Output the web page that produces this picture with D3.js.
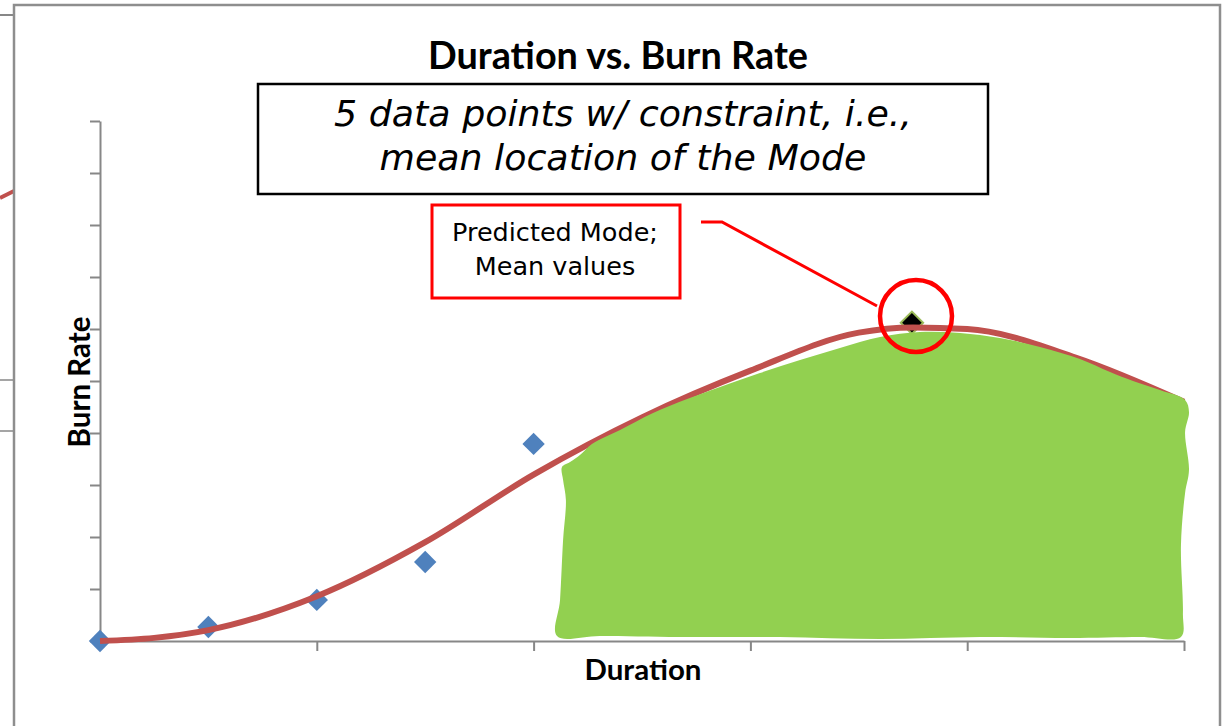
<!DOCTYPE html>
<html>
<head>
<meta charset="utf-8">
<script src="https://cdn.jsdelivr.net/npm/d3@7"></script>
<style>
  body { margin: 0; background: #fff; }
</style>
</head>
<body>
<div id="chart"></div>
<script>
// observed data points (duration, burn rate)
var obsX = [0, 0.5, 1.0, 1.5, 2.0];
var obsY = [0, 0.27, 0.79, 1.52, 3.79];

// fitted curve samples
var fitX = [0, 0.25, 0.5, 1.0, 1.5, 2.0, 2.5, 3.0, 3.5, 3.75, 4.0, 4.5, 5.0];
var fitY = [0, 0.06, 0.21, 0.86, 1.9, 3.2, 4.3, 5.2, 5.93, 6.03, 6.0, 5.45, 4.6];

// predicted mode marker
var modeX = [3.745];
var modeY = [6.12];

// hand drawn green highlight, in data units
var blobX = [2.131, 2.168, 2.214, 2.269, 2.399, 2.551, 2.708, 2.860, 3.044, 3.229, 3.413, 3.598, 3.782, 3.967, 4.151, 4.336, 4.520, 4.659, 4.765, 4.889, 5.005,
	5.023, 5.005, 5.023, 5.005, 4.986, 4.995, 4.986,
	4.797, 4.474, 4.059, 3.598, 3.137, 2.675, 2.306, 2.108,
	2.122, 2.136, 2.149, 2.136];
var blobY = [3.346, 3.442, 3.577, 3.788, 4.058, 4.385, 4.654, 4.885, 5.154, 5.404, 5.635, 5.846, 5.942, 5.923, 5.827, 5.654, 5.423, 5.173, 5.0, 4.827, 4.635,
	4.404, 4.019, 3.288, 2.846, 1.846, 0.538, 0.077,
	0.077, 0.058, 0.077, 0.038, 0.077, 0.077, 0.096, 0.096,
	0.788, 1.942, 2.712, 3.096];

var xTicks = [0, 1, 2, 3, 4, 5];
var yTicks = [0, 1, 2, 3, 4, 5, 6, 7, 8, 9, 10];

var width = 1224, height = 726;
var gray = "#878787";

var svg = d3.select("#chart").append("svg")
	.attr("width", width)
	.attr("height", height)
	.style("font-family", "Lato, 'Open Sans', sans-serif");

function fitText(sel, target) {
	var w = sel.node().getComputedTextLength();
	var fs = parseFloat(sel.style("font-size"));
	var nfs = fs * target / w;
	sel.style("font-size", nfs + "px");
	return nfs;
}

// bits of the chart that sits behind this one
svg.append("line").attr("x1", 0).attr("x2", 14).attr("y1", 15).attr("y2", 15)
	.style("stroke", gray).style("stroke-width", 2);
svg.append("line").attr("x1", 0).attr("x2", 14).attr("y1", 380).attr("y2", 380)
	.style("stroke", gray).style("stroke-width", 1.5);
svg.append("line").attr("x1", 0).attr("x2", 14).attr("y1", 431).attr("y2", 431)
	.style("stroke", gray).style("stroke-width", 1.5);
svg.append("line").attr("x1", 0).attr("x2", 14).attr("y1", 198).attr("y2", 191)
	.style("stroke", "#C0504D").style("stroke-width", 4);

// outer chart frame
svg.append("rect")
	.attr("x", 14).attr("y", 5)
	.attr("width", 1206).attr("height", 740)
	.style("fill", "#fff")
	.style("stroke", "#8e8e8e")
	.style("stroke-width", 2.5);

var x = d3.scaleLinear().domain([0, 5]).range([100, 1184]);
var y = d3.scaleLinear().domain([0, 10]).range([641, 121]);

svg.append("g")
	.attr("transform", "translate(100,0)")
	.call(d3.axisLeft(y).tickValues(yTicks).tickSize(10).tickSizeOuter(0).tickFormat(""));
svg.append("g")
	.attr("transform", "translate(0,641)")
	.call(d3.axisBottom(x).tickValues(xTicks.slice(1)).tickSize(10).tickSizeOuter(0).tickFormat(""));
svg.selectAll(".domain, .tick line")
	.style("stroke", gray)
	.style("stroke-width", 2);

// observed points
var diamond = d3.symbol().type(d3.symbolSquare).size(250);
svg.selectAll(".obs")
	.data(obsX.map(function(d, i){ return [d, obsY[i]]; }))
	.enter().append("path")
	.attr("class", "obs")
	.attr("d", diamond)
	.attr("transform", function(d){ return "translate(" + x(d[0]) + "," + y(d[1]) + ") rotate(45)"; })
	.style("fill", "#4F81BD");

// predicted mode
svg.selectAll(".mode")
	.data(modeX.map(function(d, i){ return [d, modeY[i]]; }))
	.enter().append("path")
	.attr("class", "mode")
	.attr("d", diamond)
	.attr("transform", function(d){ return "translate(" + x(d[0]) + "," + y(d[1]) + ") rotate(45)"; })
	.style("fill", "#000")
	.style("stroke", "#9BBB59")
	.style("stroke-width", 2);

// fitted curve
var line = d3.line()
	.x(function(d){ return x(d[0]); })
	.y(function(d){ return y(d[1]); })
	.curve(d3.curveMonotoneX);
svg.append("path")
	.datum(fitX.map(function(d, i){ return [d, fitY[i]]; }))
	.attr("d", line)
	.style("fill", "none")
	.style("stroke", "#C0504D")
	.style("stroke-width", 6)
	.style("stroke-linecap", "butt");

// green highlight
var blobLine = d3.line()
	.x(function(d){ return x(d[0]); })
	.y(function(d){ return y(d[1]); })
	.curve(d3.curveCatmullRomClosed);
svg.append("path")
	.datum(blobX.map(function(d, i){ return [d, blobY[i]]; }))
	.attr("d", blobLine)
	.style("fill", "#92D050");

// title
var title = svg.append("text")
	.attr("x", 618).attr("y", 69)
	.attr("text-anchor", "middle")
	.style("font-weight", "bold")
	.style("font-size", "30px")
	.text("Duration vs. Burn Rate");
fitText(title, 380);

// axis titles
var xt = svg.append("text")
	.attr("x", 643).attr("y", 680)
	.attr("text-anchor", "middle")
	.style("font-weight", "bold")
	.style("font-size", "22px")
	.text("Duration");
fitText(xt, 117);

var yt = svg.append("text")
	.attr("transform", "translate(90,382) rotate(-90)")
	.attr("text-anchor", "middle")
	.style("font-weight", "bold")
	.style("font-size", "22px")
	.text("Burn Rate");
fitText(yt, 131);

// note box
svg.append("rect")
	.attr("x", 258).attr("y", 84)
	.attr("width", 730).attr("height", 110)
	.style("fill", "#fff")
	.style("stroke", "#000")
	.style("stroke-width", 2.5);
var n1 = svg.append("text")
	.attr("x", 623).attr("y", 126)
	.attr("text-anchor", "middle")
	.style("font-family", "'DejaVu Sans', sans-serif")
	.style("font-style", "italic")
	.style("font-size", "30px")
	.text("5 data points w/ constraint, i.e.,");
var nfs = fitText(n1, 578);
svg.append("text")
	.attr("x", 623).attr("y", 170)
	.attr("text-anchor", "middle")
	.style("font-family", "'DejaVu Sans', sans-serif")
	.style("font-style", "italic")
	.style("font-size", nfs + "px")
	.text("mean location of the Mode");

// callout
svg.append("rect")
	.attr("x", 432).attr("y", 205)
	.attr("width", 248).attr("height", 93)
	.style("fill", "#fff")
	.style("stroke", "#FF0000")
	.style("stroke-width", 3);
var c1 = svg.append("text")
	.attr("x", 555).attr("y", 241)
	.attr("text-anchor", "middle")
	.style("font-family", "'DejaVu Sans', sans-serif")
	.style("font-size", "20px")
	.text("Predicted Mode;");
var cfs = fitText(c1, 206);
svg.append("text")
	.attr("x", 555).attr("y", 275)
	.attr("text-anchor", "middle")
	.style("font-family", "'DejaVu Sans', sans-serif")
	.style("font-size", cfs + "px")
	.text("Mean values");

svg.append("polyline")
	.attr("points", "701,222 722,222 877,306")
	.style("fill", "none")
	.style("stroke", "#FF0000")
	.style("stroke-width", 3);
svg.append("circle")
	.attr("cx", 916).attr("cy", 316).attr("r", 36)
	.style("fill", "none")
	.style("stroke", "#FF0000")
	.style("stroke-width", 4.5);
</script>
</body>
</html>
